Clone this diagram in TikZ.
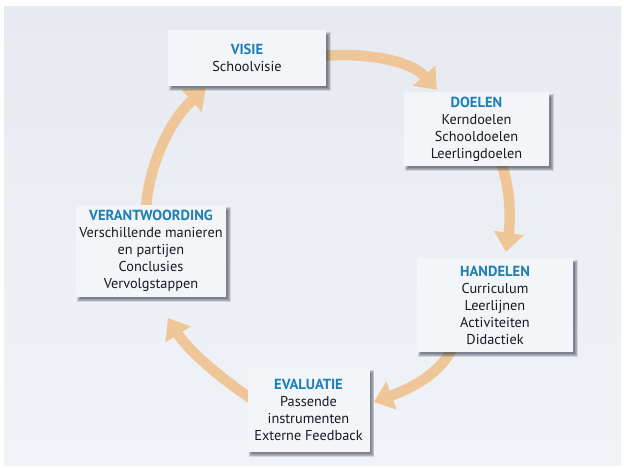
\documentclass[tikz,border=0pt]{standalone}
\usepackage{fontspec}
\setmainfont{PT Sans}
\usetikzlibrary{arrows.meta,calc}

\definecolor{paper}{RGB}{231,235,241}
\definecolor{paperlight}{RGB}{240,243,247}
\definecolor{boxfill}{RGB}{243,245,248}
\definecolor{flowcol}{RGB}{239,198,152}
\definecolor{titleblue}{RGB}{27,127,184}
\definecolor{bodytext}{RGB}{24,26,34}
\definecolor{shadowcol}{RGB}{40,50,62}

\pgfdeclarelayer{paperlayer}
\pgfdeclarelayer{flowlayer}
\pgfdeclarelayer{shadowlayer}
\pgfsetlayers{paperlayer,flowlayer,shadowlayer,main}

\tikzset{
  stagebox/.style={
    rectangle, fill=boxfill, draw=none, align=center,
    font=\fontsize{14.3bp}{17bp}\selectfont, text=bodytext,
    inner sep=0pt
  },
  flow/.style={
    draw=flowcol, line width=10.5bp,
    -{Triangle[width=29bp,length=19bp]}
  },
  softshadow/.style={fill=shadowcol, fill opacity=0.13, draw=none}
}
\newcommand{\stagetitle}[1]{{\fontsize{14.6bp}{17bp}\selectfont\bfseries\color{titleblue}#1}}

\begin{document}
\begin{tikzpicture}[x=1bp,y=-1bp]
  % page and paper tone
  \begin{pgfonlayer}{paperlayer}
    \fill[white] (0,0) rectangle (624,468);
    \shade[top color=paper, bottom color=paperlight] (4,7) rectangle (621,465);
  \end{pgfonlayer}
  \useasboundingbox (0,0) rectangle (624,468);

  % stages of the cycle
  \node[stagebox, minimum width=158bp, minimum height=56bp] (visie) at (247,58)
    {\stagetitle{VISIE}\\Schoolvisie};
  \node[stagebox, minimum width=145bp, minimum height=74bp] (doelen) at (476.5,129)
    {\stagetitle{DOELEN}\\Kerndoelen\\Schooldoelen\\Leerlingdoelen};
  \node[stagebox, minimum width=156bp, minimum height=94bp] (handelen) at (495,305)
    {\stagetitle{HANDELEN}\\Curriculum\\Leerlijnen\\Activiteiten\\Didactiek};
  \node[stagebox, minimum width=122bp, minimum height=84bp] (evaluatie) at (308.5,410)
    {\stagetitle{EVALUATIE}\\Passende\\instrumenten\\Externe Feedback};
  \node[stagebox, minimum width=150bp, minimum height=92bp] (verantw) at (151,251)
    {\stagetitle{VERANTWOORDING}\\Verschillende manieren\\en partijen\\Conclusies\\Vervolgstappen};

  % soft drop shadows, offset down and to the right
  \begin{pgfonlayer}{shadowlayer}
    \foreach \n in {visie,doelen,handelen,evaluatie,verantw}{
      \foreach \k in {0,...,5}{
        \pgfmathsetmacro{\grow}{1.6-0.6*\k}
        \fill[softshadow]
          ($(\n.north west)+(3-\grow,4-\grow)$) rectangle
          ($(\n.south east)+(3+\grow,3+\grow)$);
      }
    }
  \end{pgfonlayer}

  % end points of the connecting arrows
  \coordinate (s1) at ($(visie.east)+(-6,-2)$);
  \coordinate (e1) at ($(doelen.north west)+(33,-2)$);
  \coordinate (s2) at ($(doelen.south)+(23.5,-6)$);
  \coordinate (e2) at ($(handelen.north)+(11,-6)$);
  \coordinate (s3) at ($(handelen.south)+(-43,-4)$);
  \coordinate (e3) at ($(evaluatie.east)+(4,-8)$);
  \coordinate (s4) at ($(evaluatie.west)+(3,-12)$);
  \coordinate (e4) at ($(verantw.south)+(17,21)$);
  \coordinate (s5) at ($(verantw.north)+(-5,3)$);
  \coordinate (e5) at ($(visie.south west)+(38,2)$);

  % curved arrows, behind the boxes
  \begin{pgfonlayer}{flowlayer}
    \draw[flow] (s1) .. controls ($(s1)+(50,-4)$) and ($(e1)+(-25,-28)$) .. (e1);
    \draw[flow] (s2) .. controls ($(s2)+(12,30)$) and ($(e2)+(4,-27)$) .. (e2);
    \draw[flow] (s3) .. controls ($(s3)+(-12,27)$) and ($(e3)+(33,-12)$) .. (e3);
    \draw[flow] (s4) .. controls ($(s4)+(-30,-20)$) and ($(e4)+(20,32)$) .. (e4);
    \draw[flow] (s5) .. controls ($(s5)+(3,-43)$) and ($(e5)+(-36,32)$) .. (e5);
  \end{pgfonlayer}
\end{tikzpicture}
\end{document}
